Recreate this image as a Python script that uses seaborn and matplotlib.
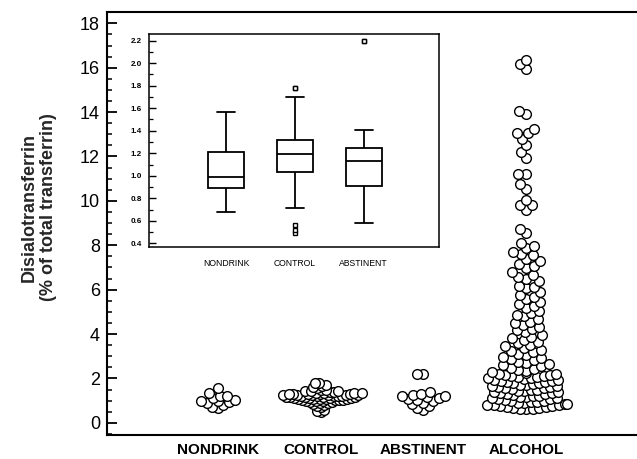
import numpy as np
import pandas as pd
import matplotlib
matplotlib.use("Agg")
import matplotlib.pyplot as plt
import seaborn as sns
from matplotlib.ticker import MultipleLocator, FormatStrFormatter

# ---------------- data ----------------
groups = ["NONDRINK", "CONTROL", "ABSTINENT", "ALCOHOL"]
inset_groups = ["NONDRINK", "CONTROL", "ABSTINENT"]

nondrink = [0.68, 0.70, 0.82, 0.89, 0.92, 0.96, 0.99, 1.03, 1.10, 1.21,
            1.22, 1.32, 1.57]

control = [0.49, 0.52, 0.56, 0.71, 0.75, 0.80, 0.84, 0.88, 0.90, 0.93,
           0.95, 0.97, 0.98, 1.00, 1.01, 1.02, 1.03, 1.04, 1.05, 1.06,
           1.07, 1.08, 1.09, 1.10, 1.11, 1.12, 1.13, 1.14, 1.15, 1.16,
           1.17, 1.18, 1.19, 1.20, 1.21, 1.21, 1.22, 1.23, 1.24, 1.25,
           1.26, 1.26, 1.27, 1.28, 1.29, 1.30, 1.31, 1.31, 1.32, 1.33,
           1.35, 1.36, 1.38, 1.40, 1.42, 1.43, 1.45, 1.48, 1.50, 1.55,
           1.60, 1.65, 1.70, 1.78, 1.78]

abstinent = [0.58, 0.65, 0.75, 0.85, 0.91, 0.98, 1.02, 1.08, 1.13, 1.16,
             1.19, 1.22, 1.25, 1.30, 1.41, 2.20, 2.20]

alcohol = [0.60, 0.62, 0.64, 0.65, 0.67, 0.70, 0.72, 0.74, 0.75, 0.78,
           0.80, 0.82, 0.84, 0.85, 0.87, 0.90, 0.92, 0.95, 0.97, 1.00,
           1.03, 1.05, 1.07, 1.10, 1.12, 1.15, 1.17, 1.20, 1.22, 1.25,
           1.28, 1.30, 1.32, 1.35, 1.37, 1.40, 1.42, 1.45, 1.47, 1.50,
           1.53, 1.55, 1.57, 1.60, 1.62, 1.65, 1.67, 1.70, 1.72, 1.75,
           1.78, 1.80, 1.82, 1.85, 1.87, 1.90, 1.92, 1.95, 1.97, 2.00,
           2.03, 2.05, 2.07, 2.10, 2.12, 2.15, 2.17, 2.20, 2.22, 2.25,
           2.28,
           2.35, 2.40, 2.44, 2.49, 2.55, 2.60, 2.64, 2.70, 2.75, 2.81,
           2.86, 2.92, 2.98, 3.04, 3.10, 3.17, 3.23, 3.29,
           3.36, 3.44, 3.52, 3.58, 3.66, 3.73, 3.81, 3.88, 3.95, 4.07,
           4.16, 4.22, 4.31, 4.40, 4.48, 4.56, 4.66, 4.79, 4.87, 4.94,
           5.03, 5.19, 5.28, 5.35, 5.46, 5.58, 5.66, 5.77, 5.88, 6.06,
           6.12, 6.18, 6.37, 6.48, 6.57, 6.66, 6.78, 6.97, 7.08, 7.15,
           7.27, 7.38, 7.56, 7.62, 7.68, 7.86, 7.97, 8.12,
           8.55, 8.75, 9.60, 9.83, 9.83, 10.06, 10.55, 10.78, 11.23, 11.23,
           11.95, 12.20, 12.50, 12.80, 13.04, 13.04, 13.26, 13.90, 14.05,
           15.95, 16.15, 16.35]

main_yticks = [0, 2, 4, 6, 8, 10, 12, 14, 16, 18]
inset_yticks = [0.4, 0.6, 0.8, 1.0, 1.2, 1.4, 1.6, 1.8, 2.0, 2.2]
y_label = "Disialotransferrin\n(% of total transferrin)"

# ---------------- style ----------------
sns.set_theme(style="white")
plt.rcParams["font.family"] = ["Liberation Sans", "DejaVu Sans"]

series = {"NONDRINK": nondrink, "CONTROL": control,
          "ABSTINENT": abstinent, "ALCOHOL": alcohol}
df = pd.DataFrame({
    "group": np.concatenate([[g] * len(series[g]) for g in groups]),
    "value": np.concatenate([series[g] for g in groups]),
})

W, H = 637, 459
fig = plt.figure(figsize=(W / 100, H / 100), dpi=100)
fig.patch.set_facecolor("white")

# main axes
ax = fig.add_axes([107 / W, 1 - 435 / H, (W - 107) / W, (435 - 12) / H])
ax.set_facecolor("white")

# swarm packing sizes (points): dense parts are packed tighter, the
# circles are then drawn at a common display size (overlapping, as in
# the reference dot plot)
ALC_SPLIT = 2.33
segments = [
    ("NONDRINK", None, 3.3),
    ("CONTROL", None, 1.8),
    ("ABSTINENT", None, 3.6),
    ("ALCOHOL", "low", 3.5),
    ("ALCOHOL", "high", 4.4),
]
for g, part, size in segments:
    sub = df[df["group"] == g]
    if part == "low":
        sub = sub[sub["value"] < ALC_SPLIT]
    elif part == "high":
        sub = sub[sub["value"] >= ALC_SPLIT]
    sns.swarmplot(data=sub, x="group", y="value", order=groups, ax=ax,
                  size=size, color="white", edgecolor="black",
                  linewidth=1.0, warn_thresh=1.0)

ax.set_xlim(-1.08, 4.08)
ax.set_ylim(-0.55, 18.51)
ax.set_yticks(main_yticks)
ax.yaxis.set_minor_locator(MultipleLocator(0.5))
ax.set_xlabel("")
ax.set_ylabel(y_label, fontsize=13, fontweight="bold", linespacing=1.15)
ax.yaxis.set_label_coords(-0.094, 0.539)
ax.tick_params(axis="y", which="major", direction="in", length=7, width=1.3,
               labelsize=13, pad=5, left=True, colors="black")
ax.tick_params(axis="y", which="minor", direction="in", length=3.5, width=1.1,
               left=True, colors="black")
ax.tick_params(axis="x", length=0, labelsize=11, pad=5.5, colors="black")
for lab in ax.get_xticklabels():
    lab.set_fontweight("bold")
for side in ["left", "top", "bottom"]:
    ax.spines[side].set_visible(True)
    ax.spines[side].set_color("black")
    ax.spines[side].set_linewidth(1.5)
ax.spines["right"].set_visible(False)

# compute swarm layout with the packing sizes, then show bigger circles
fig.canvas.draw()
for coll in ax.collections:
    coll.__dict__.pop("draw", None)
    coll.set_sizes([7.0 ** 2])

# inset axes with box plots
axin = fig.add_axes([149 / W, 1 - 246.7 / H, (439.3 - 149) / W, (246.7 - 33.7) / H])
axin.set_facecolor("white")
df_in = df[df["group"].isin(inset_groups)]
sns.boxplot(data=df_in, x="group", y="value", order=inset_groups, ax=axin,
            width=0.52, color="white", linecolor="black", linewidth=1.3,
            fliersize=3.5,
            flierprops=dict(marker="s", markerfacecolor="white",
                            markeredgecolor="black", markeredgewidth=1.0))
axin.set_xlim(-1.12, 3.1)
axin.set_ylim(0.37, 2.262)
axin.set_yticks(inset_yticks)
axin.yaxis.set_major_formatter(FormatStrFormatter("%.1f"))
axin.yaxis.set_minor_locator(MultipleLocator(0.1))
axin.set_xlabel("")
axin.set_ylabel("")
axin.tick_params(axis="y", which="major", direction="in", length=5, width=1.0,
                 labelsize=5.8, pad=5, left=True, colors="black")
axin.tick_params(axis="y", which="minor", direction="in", length=3, width=0.9,
                 left=True, colors="black")
axin.tick_params(axis="x", length=0, labelsize=6.2, pad=9, colors="black")
for lab in axin.get_yticklabels():
    lab.set_fontweight("bold")
for side in ["left", "top", "bottom", "right"]:
    axin.spines[side].set_visible(True)
    axin.spines[side].set_color("black")
    axin.spines[side].set_linewidth(1.1)

fig.savefig("out.png", dpi=100, facecolor="white")
